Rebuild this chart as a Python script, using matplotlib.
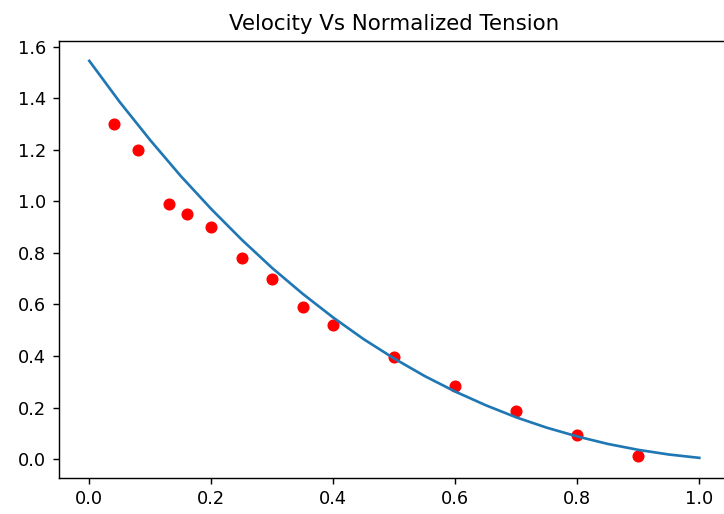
import numpy as np
import matplotlib
matplotlib.use("Agg")
import matplotlib.pyplot as plt

# measured points (normalized tension, velocity)
tension = [0.04, 0.08, 0.13, 0.16, 0.20, 0.25, 0.30, 0.35, 0.40, 0.50, 0.60, 0.70, 0.80, 0.90]
velocity = [1.30, 1.20, 0.99, 0.95, 0.90, 0.78, 0.70, 0.59, 0.52, 0.395, 0.285, 0.185, 0.092, 0.014]

# fitted curve
fit_tension = [0.0, 0.05, 0.1, 0.15, 0.2, 0.25, 0.3, 0.35, 0.4, 0.45, 0.5,
               0.55, 0.6, 0.65, 0.7, 0.75, 0.8, 0.85, 0.9, 0.95, 1.0]
fit_velocity = [1.545, 1.385, 1.237, 1.098, 0.970, 0.851, 0.741, 0.641, 0.549, 0.465, 0.390,
                0.322, 0.262, 0.209, 0.162, 0.122, 0.088, 0.059, 0.036, 0.018, 0.005]

k = 1.28  # scale of the original rendering
plt.rcParams.update({
    "font.size": 10 * k,
    "axes.linewidth": 0.8 * k,
    "xtick.major.size": 3.5 * k,
    "ytick.major.size": 3.5 * k,
    "xtick.major.width": 0.8 * k,
    "ytick.major.width": 0.8 * k,
    "xtick.major.pad": 3.5 * k,
    "ytick.major.pad": 3.5 * k,
})

fig = plt.figure(figsize=(7.24, 5.14), dpi=100)
ax = fig.add_axes([58.8 / 724, 36.3 / 514, 671 / 724, 436.7 / 514])

ax.plot(tension, velocity, "o", color="red", markersize=6 * k)
ax.plot(fit_tension, fit_velocity, color="#1f77b4", linewidth=1.5 * k)

ax.set_xticks([0.0, 0.2, 0.4, 0.6, 0.8, 1.0])
ax.set_yticks([0.0, 0.2, 0.4, 0.6, 0.8, 1.0, 1.2, 1.4, 1.6])
ax.set_title("Velocity Vs Normalized Tension", fontsize=12 * k, pad=6 * k)

fig.savefig("out.png", dpi=100)
